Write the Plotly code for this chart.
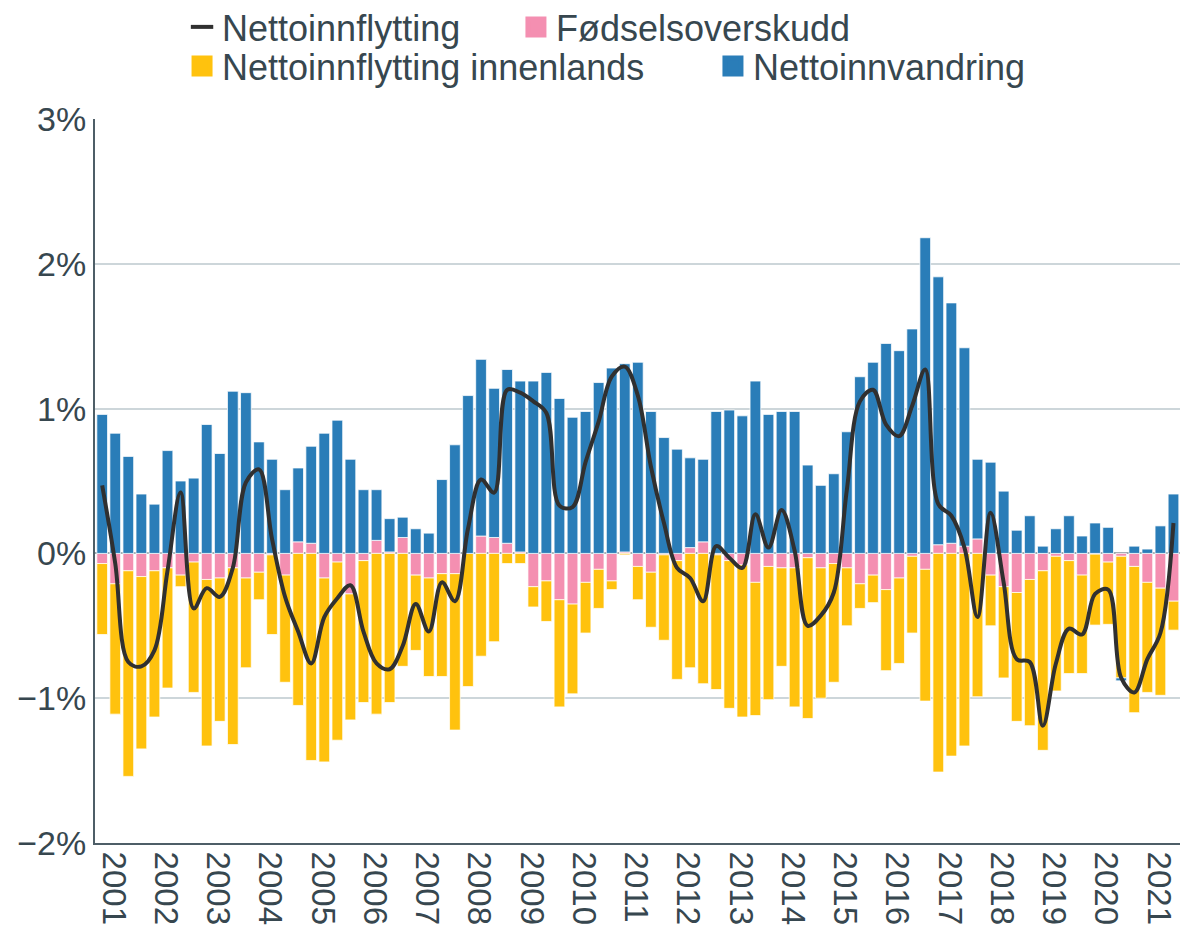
import plotly.graph_objects as go

# ---- data (percent of population, quarterly 2001 K1 - 2021 K3) ----
years = [str(y) for y in range(2001, 2022)]
y_tick_values = [-2, -1, 0, 1, 2, 3]
y_tick_labels = ["\u22122%", "\u22121%", "0%", "1%", "2%", "3%"]

fodselsoverskudd = [
    -0.07, -0.21, -0.12, -0.16, -0.12, -0.10, -0.15, -0.06, -0.18, -0.17,
    -0.10, -0.17, -0.13, -0.01, -0.15, 0.08, 0.07, -0.17, -0.06, -0.28,
    -0.05, 0.09, 0.01, 0.11, -0.15, -0.17, -0.14, -0.14, 0.00, 0.12,
    0.11, 0.07, 0.01, -0.23, -0.19, -0.32, -0.35, -0.20, -0.11, -0.19,
    0.01, -0.09, -0.13, -0.01, -0.05, 0.04, 0.08, -0.01, -0.05, -0.08,
    -0.20, -0.09, -0.10, -0.10, -0.03, -0.10, -0.07, -0.10, -0.21, -0.15,
    -0.25, -0.17, -0.02, -0.11, 0.06, 0.07, 0.05, 0.10, -0.15, -0.23,
    -0.27, -0.18, -0.12, -0.02, -0.05, -0.15, -0.005, -0.06, -0.02, -0.09,
    -0.20, -0.24, -0.33,
]

innenlands = [
    -0.49, -0.90, -1.42, -1.19, -1.01, -0.83, -0.08, -0.90, -1.15, -0.99,
    -1.22, -0.62, -0.19, -0.55, -0.74, -1.05, -1.43, -1.27, -1.23, -0.87,
    -0.98, -1.11, -1.03, -0.78, -0.52, -0.68, -0.71, -1.08, -0.92, -0.71,
    -0.61, -0.07, -0.07, -0.14, -0.28, -0.74, -0.62, -0.35, -0.27, -0.06,
    -0.01, -0.23, -0.38, -0.59, -0.82, -0.79, -0.90, -0.93, -1.02, -1.05,
    -0.92, -0.92, -0.68, -0.96, -1.11, -0.90, -0.82, -0.40, -0.17, -0.19,
    -0.56, -0.59, -0.53, -0.91, -1.51, -1.40, -1.33, -0.99, -0.35, -0.63,
    -0.89, -1.01, -1.24, -0.93, -0.78, -0.68, -0.49, -0.43, -0.84, -1.01,
    -0.76, -0.74, -0.20,
]

innvandring = [
    0.96, 0.83, 0.67, 0.41, 0.34, 0.71, 0.50, 0.52, 0.89, 0.69,
    1.12, 1.11, 0.77, 0.65, 0.44, 0.51, 0.67, 0.83, 0.92, 0.65,
    0.44, 0.35, 0.23, 0.14, 0.17, 0.14, 0.51, 0.75, 1.09, 1.22,
    1.03, 1.20, 1.18, 1.19, 1.25, 1.07, 0.94, 0.98, 1.18, 1.28,
    1.30, 1.32, 0.98, 0.80, 0.72, 0.62, 0.57, 0.98, 0.99, 0.95,
    1.19, 0.96, 0.98, 0.98, 0.61, 0.47, 0.55, 0.84, 1.22, 1.32,
    1.45, 1.40, 1.55, 2.18, 1.85, 1.66, 1.37, 0.55, 0.63, 0.43,
    0.16, 0.26, 0.05, 0.17, 0.26, 0.12, 0.21, 0.18, -0.02, 0.05,
    0.03, 0.19, 0.41,
]

nettoinnflytting = [
    0.47, -0.07, -0.75, -0.78, -0.67, -0.12, 0.42, -0.38, -0.24, -0.30,
    -0.10, 0.49, 0.58, 0.10, -0.30, -0.54, -0.76, -0.44, -0.31, -0.22,
    -0.54, -0.76, -0.80, -0.64, -0.35, -0.54, -0.20, -0.33, 0.17, 0.51,
    0.42, 1.13, 1.11, 1.05, 0.97, 0.33, 0.32, 0.63, 0.91, 1.22,
    1.29, 1.09, 0.60, 0.21, -0.10, -0.17, -0.33, 0.05, -0.03, -0.10,
    0.27, 0.04, 0.30, 0.02, -0.50, -0.43, -0.27, 0.44, 1.05, 1.13,
    0.89, 0.81, 1.02, 1.27, 0.34, 0.26, 0.04, -0.44, 0.28, -0.20,
    -0.73, -0.75, -1.19, -0.76, -0.52, -0.56, -0.28, -0.25, -0.86, -0.96,
    -0.73, -0.55, 0.21,
]

quarters = list(range(len(innvandring)))
year_ticks = [4 * i + 0.85 for i in range(len(years))]

TEXT = "#37474f"
FONT = "Liberation Sans, Arial, sans-serif"
C_LINE = "#303030"
C_PINK = "#f48fb1"
C_YELLOW = "#ffc20e"
C_BLUE = "#2a7db8"
bar_line = dict(color="rgba(255,255,255,0.75)", width=1)

fig = go.Figure()
# data traces (legend handled by legend-only entries below)
fig.add_trace(go.Bar(x=quarters, y=fodselsoverskudd, name="Fødselsoverskudd",
                     marker=dict(color=C_PINK, line=bar_line), showlegend=False))
fig.add_trace(go.Bar(x=quarters, y=innenlands, name="Nettoinnflytting innenlands",
                     marker=dict(color=C_YELLOW, line=bar_line), showlegend=False))
fig.add_trace(go.Bar(x=quarters, y=innvandring, name="Nettoinnvandring",
                     marker=dict(color=C_BLUE, line=bar_line), showlegend=False))
fig.add_trace(go.Scatter(x=quarters, y=nettoinnflytting, name="Nettoinnflytting", mode="lines",
                         line=dict(color=C_LINE, width=4, shape="spline", smoothing=1),
                         showlegend=False))


def legend_entry(name, color, symbol, legend, line_w):
    return go.Scatter(
        x=[None], y=[None], mode="markers", name=name, legend=legend,
        marker=dict(symbol=symbol, size=16, color=color,
                    line=dict(color=color, width=line_w)),
        hoverinfo="skip",
    )


fig.add_trace(legend_entry("Nettoinnflytting", C_LINE, "line-ew", "legend", 4))
fig.add_trace(legend_entry("Fødselsoverskudd", C_PINK, "square", "legend2", 6))
fig.add_trace(legend_entry("Nettoinnflytting innenlands", C_YELLOW, "square", "legend3", 6))
fig.add_trace(legend_entry("Nettoinnvandring", C_BLUE, "square", "legend4", 6))

legend_common = dict(
    orientation="h", xref="container", yref="container",
    xanchor="left", yanchor="middle",
    font=dict(family=FONT, size=36, color=TEXT),
    bgcolor="rgba(0,0,0,0)",
    itemclick=False, itemdoubleclick=False,
)

W, H = 1172, 917
ROW1, ROW2 = 0.9793, 0.9367
fig.update_layout(
    width=W, height=H,
    margin=dict(l=87, r=0, t=111, b=82, autoexpand=False),
    paper_bgcolor="white", plot_bgcolor="white",
    barmode="relative", bargap=0.18,
    font=dict(family=FONT, color=TEXT),
    legend=dict(x=0.1485, y=ROW1, **legend_common),
    legend2=dict(x=0.4334, y=ROW1, **legend_common),
    legend3=dict(x=0.1485, y=ROW2, **legend_common),
    legend4=dict(x=0.6015, y=ROW2, **legend_common),
    xaxis=dict(
        range=[-0.55, 82.5], tickmode="array", tickvals=year_ticks, ticktext=years,
        tickangle=90, tickfont=dict(family=FONT, size=33, color=TEXT),
        showgrid=False, zeroline=False, showline=True, linecolor="#4e5e67", linewidth=2,
        ticks="",
    ),
    yaxis=dict(
        range=[-2, 3], tickmode="array", tickvals=y_tick_values, ticktext=y_tick_labels,
        tickfont=dict(family=FONT, size=34, color=TEXT),
        showgrid=True, gridcolor="#cdd6da", gridwidth=1.5,
        zeroline=True, zerolinecolor="#9ea9ae", zerolinewidth=2,
        showline=True, linecolor="#4e5e67", linewidth=2, ticks="",
    ),
)

fig.write_html("out.html")
